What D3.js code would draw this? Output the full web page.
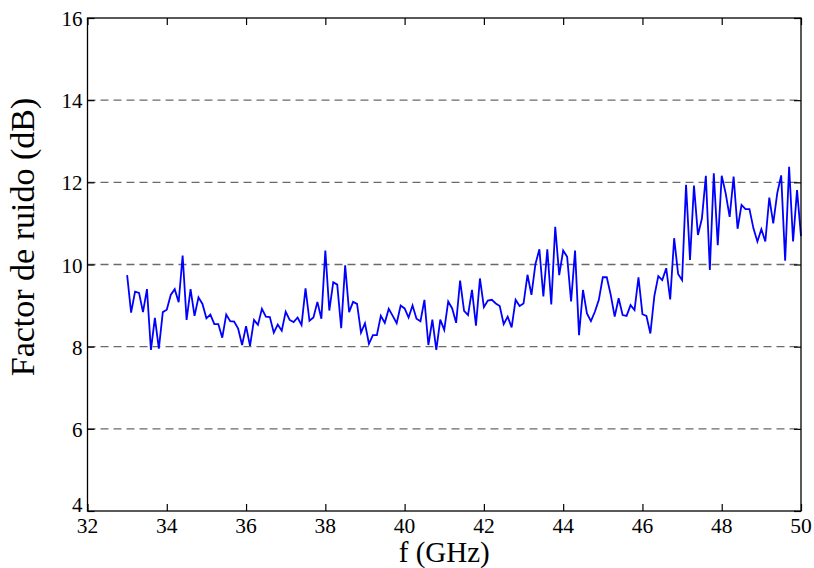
<!DOCTYPE html>
<html>
<meta charset="utf-8">
<style>
  body {
    margin: 0;
    background: #fff;
  }
  text {
    font-family: "Liberation Serif", "Times New Roman", serif;
    fill: #000;
  }
  .grid line {
    stroke: #6a6a6a;
    stroke-width: 1.4;
    stroke-dasharray: 8, 5;
  }
  .frame {
    fill: none;
    stroke: #000;
    stroke-width: 1.3;
  }
</style>
<body>
<script src="https://d3js.org/d3.v7.min.js"></script>
<script>

// Frequency axis starts at 33 GHz, one sample every 0.1 GHz up to 50 GHz
var fStart = 33.0;
var fStep = 0.1;

// Noise figure (dB)
var noiseFigure = [
  9.74, 8.83, 9.34, 9.31, 8.84, 9.40, 7.92, 8.70, 7.95, 8.84,
  8.90, 9.26, 9.40, 9.08, 10.22, 8.65, 9.40, 8.75, 9.20, 9.04,
  8.69, 8.78, 8.55, 8.55, 8.22, 8.78, 8.62, 8.61, 8.44, 8.04,
  8.50, 8.02, 8.65, 8.53, 8.92, 8.73, 8.72, 8.34, 8.54, 8.39,
  8.85, 8.65, 8.60, 8.71, 8.53, 9.42, 8.63, 8.71, 9.09, 8.68,
  10.34, 8.88, 9.57, 9.51, 8.45, 9.98, 8.84, 9.09, 9.04, 8.34,
  8.57, 8.07, 8.28, 8.28, 8.75, 8.58, 8.92, 8.75, 8.57, 9.00,
  8.93, 8.71, 9.00, 8.68, 8.62, 9.14, 8.04, 8.66, 7.92, 8.66,
  8.41, 9.10, 8.93, 8.58, 9.61, 8.87, 8.77, 9.38, 8.51, 9.66,
  8.96, 9.12, 9.14, 9.05, 8.99, 8.55, 8.73, 8.47, 9.14, 8.99,
  9.05, 9.75, 9.26, 10.01, 10.37, 9.22, 10.37, 9.03, 10.92, 9.74,
  10.34, 10.19, 9.10, 10.34, 8.28, 9.38, 8.81, 8.62, 8.85, 9.14,
  9.69, 9.69, 9.26, 8.73, 9.18, 8.77, 8.75, 9.01, 8.89, 9.69,
  8.79, 8.75, 8.32, 9.23, 9.72, 9.62, 9.91, 9.15, 10.64, 9.77,
  9.62, 11.94, 10.11, 11.92, 10.72, 11.12, 12.16, 9.87, 12.22, 10.47,
  12.16, 11.73, 11.16, 12.14, 10.87, 11.45, 11.35, 11.35, 10.88, 10.56,
  10.86, 10.56, 11.63, 11.00, 11.73, 12.17, 10.09, 12.38, 10.56, 11.81,
  10.69
];

var xTicks = [32, 34, 36, 38, 40, 42, 44, 46, 48, 50];
var yTicks = [4, 6, 8, 10, 12, 14, 16];
var xLabel = 'f (GHz)';
var yLabel = 'Factor de ruido (dB)';

var width = 814;
var height = 568;
var margin = { top: 18, right: 13, bottom: 57, left: 87.5 };
var plotW = width - margin.left - margin.right;
var plotH = height - margin.top - margin.bottom;
var serif = '"Liberation Serif", "Times New Roman", serif';

var data = noiseFigure.map(function(v, i) {
  return { f: fStart + i * fStep, nf: v };
});

var x = d3.scaleLinear().domain([32, 50]).range([0, plotW]);
var y = d3.scaleLinear().domain([4, 16]).range([plotH, 0]);

var svg = d3
  .select('body')
  .append('svg')
  .attr('width', width)
  .attr('height', height);

var g = svg
  .append('g')
  .attr('transform', 'translate(' + margin.left + ',' + margin.top + ')');

// dashed horizontal grid (skip the box edges)
g.append('g')
  .attr('class', 'grid')
  .selectAll('line')
  .data(yTicks.filter(function(d) { return d !== 4 && d !== 16; }))
  .enter()
  .append('line')
  .attr('x1', 0)
  .attr('x2', plotW)
  .attr('y1', function(d) { return y(d); })
  .attr('y2', function(d) { return y(d); });

// the data line
var line = d3
  .line()
  .x(function(d) { return x(d.f); })
  .y(function(d) { return y(d.nf); });

g.append('path')
  .datum(data)
  .attr('d', line)
  .style('fill', 'none')
  .style('stroke', '#0000ff')
  .style('stroke-width', 1.8)
  .style('stroke-linejoin', 'miter');

// axes: ticks point inward, like matlab
var tickLen = 7;

var xAxis = g
  .append('g')
  .attr('transform', 'translate(0,' + plotH + ')')
  .call(d3.axisTop(x).tickValues(xTicks).tickSize(tickLen).tickFormat(''));
var xAxisTop = g
  .append('g')
  .call(d3.axisBottom(x).tickValues(xTicks).tickSize(tickLen).tickFormat(''));
var yAxis = g
  .append('g')
  .call(d3.axisRight(y).tickValues(yTicks).tickSize(tickLen).tickFormat(''));
var yAxisRight = g
  .append('g')
  .attr('transform', 'translate(' + plotW + ',0)')
  .call(d3.axisLeft(y).tickValues(yTicks).tickSize(tickLen).tickFormat(''));

[xAxis, xAxisTop, yAxis, yAxisRight].forEach(function(a) {
  a.select('.domain').remove();
  a.selectAll('line').style('stroke', '#000').style('stroke-width', 1.2);
});

g.append('rect')
  .attr('class', 'frame')
  .attr('x', 0)
  .attr('y', 0)
  .attr('width', plotW)
  .attr('height', plotH);

// tick labels
g.append('g')
  .selectAll('text')
  .data(xTicks)
  .enter()
  .append('text')
  .attr('x', function(d) { return x(d); })
  .attr('y', plotH + 22)
  .attr('text-anchor', 'middle')
  .style('font-family', serif)
  .style('font-size', '21.5px')
  .text(function(d) { return d; });

g.append('g')
  .selectAll('text')
  .data(yTicks)
  .enter()
  .append('text')
  .attr('x', -5)
  // matlab nudges the bottom label up so it clears the x labels
  .attr('y', function(d) { return d === 4 ? y(d) + 1 : y(d) + 8; })
  .attr('text-anchor', 'end')
  .style('font-family', serif)
  .style('font-size', '21px')
  .text(function(d) { return d; });

// axis titles
svg.append('text')
  .attr('x', margin.left + plotW / 2)
  .attr('y', 562)
  .attr('text-anchor', 'middle')
  .style('font-family', serif)
  .style('font-size', '29px')
  .text(xLabel);

svg.append('text')
  .attr('transform', 'translate(34,237) rotate(-90)')
  .attr('text-anchor', 'middle')
  .style('font-family', serif)
  .style('font-size', '34px')
  .text(yLabel);

</script>
</body>
</html>
